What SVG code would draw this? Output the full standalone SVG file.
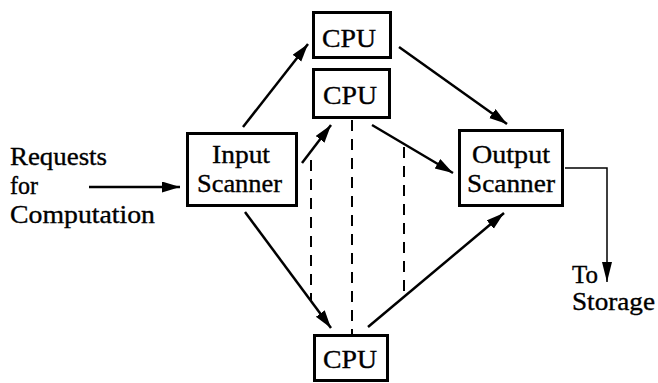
<svg xmlns="http://www.w3.org/2000/svg" width="658" height="383" viewBox="0 0 658 383">
  <defs>
    <style>
      .box { fill: #fff; stroke: #000; stroke-width: 3; }
      .lbl { font-family: "Liberation Serif", "Times New Roman", serif; font-size: 25.5px; fill: #000; stroke: #000; stroke-width: 0.35; }
      .cpu { font-size: 26px; }
      .flow { fill: none; stroke: #000; stroke-width: 2.5; marker-end: url(#head); }
      .thin { fill: none; stroke: #000; stroke-width: 1.5; }
      .dash { fill: none; stroke: #000; stroke-width: 2; stroke-dasharray: 11 8; }
    </style>
    <marker id="head" markerUnits="userSpaceOnUse" markerWidth="20" markerHeight="12" refX="18" refY="5.5" orient="auto">
      <path d="M0,0 L18,5.5 L0,11 Z" fill="#000"/>
    </marker>
    <marker id="headThin" markerUnits="userSpaceOnUse" markerWidth="22" markerHeight="12" refX="20" refY="5" orient="auto">
      <path d="M0,0 L20,5 L0,10 Z" fill="#000"/>
    </marker>
  </defs>

  <rect width="658" height="383" fill="#fff"/>

  <!-- connectors -->
  <g id="connectors">
    <path class="flow" d="M89,187 L180,187"/>
    <path class="flow" d="M243,127 L308,44"/>
    <path class="flow" d="M302,163 L331,125"/>
    <path class="flow" d="M245,212 L331,328"/>
    <path class="flow" d="M399,47 L507,124"/>
    <path class="flow" d="M372,125 L453,173"/>
    <path class="flow" d="M368,327 L504,213"/>
    <path class="thin" d="M565,168 L607,168 L607,282" marker-end="url(#headThin)"/>
    <path class="dash" d="M311,160 L311,300"/>
    <path class="dash" d="M352,120 L352,334"/>
    <path class="dash" d="M404,147 L404,298"/>
  </g>

  <!-- source label -->
  <g id="requests">
    <text class="lbl" x="10" y="165" textLength="97" lengthAdjust="spacingAndGlyphs">Requests</text>
    <text class="lbl" x="10" y="194" textLength="28" lengthAdjust="spacingAndGlyphs">for</text>
    <text class="lbl" x="10" y="223" textLength="145" lengthAdjust="spacingAndGlyphs">Computation</text>
  </g>

  <g id="input-scanner">
    <rect class="box" x="187.5" y="133.5" width="109" height="72"/>
    <text class="lbl" x="212" y="163" textLength="58" lengthAdjust="spacingAndGlyphs">Input</text>
    <text class="lbl" x="197" y="192" textLength="85" lengthAdjust="spacingAndGlyphs">Scanner</text>
  </g>

  <g id="cpu-1">
    <rect class="box" x="313.5" y="12.5" width="77" height="45"/>
    <text class="lbl cpu" x="322" y="47" textLength="54" lengthAdjust="spacingAndGlyphs">CPU</text>
  </g>

  <g id="cpu-2">
    <rect class="box" x="313.5" y="69.5" width="76" height="48"/>
    <text class="lbl cpu" x="323" y="104" textLength="54" lengthAdjust="spacingAndGlyphs">CPU</text>
  </g>

  <g id="cpu-3">
    <rect class="box" x="314.5" y="335.5" width="73" height="45"/>
    <text class="lbl cpu" x="323" y="368" textLength="54" lengthAdjust="spacingAndGlyphs">CPU</text>
  </g>

  <g id="output-scanner">
    <rect class="box" x="459.5" y="130.5" width="103" height="75"/>
    <text class="lbl" x="472" y="163" textLength="78" lengthAdjust="spacingAndGlyphs">Output</text>
    <text class="lbl" x="467" y="192" textLength="88" lengthAdjust="spacingAndGlyphs">Scanner</text>
  </g>

  <g id="storage">
    <text class="lbl" x="572" y="283" textLength="26" lengthAdjust="spacingAndGlyphs">To</text>
    <text class="lbl" x="572" y="310" textLength="83" lengthAdjust="spacingAndGlyphs">Storage</text>
  </g>
</svg>
